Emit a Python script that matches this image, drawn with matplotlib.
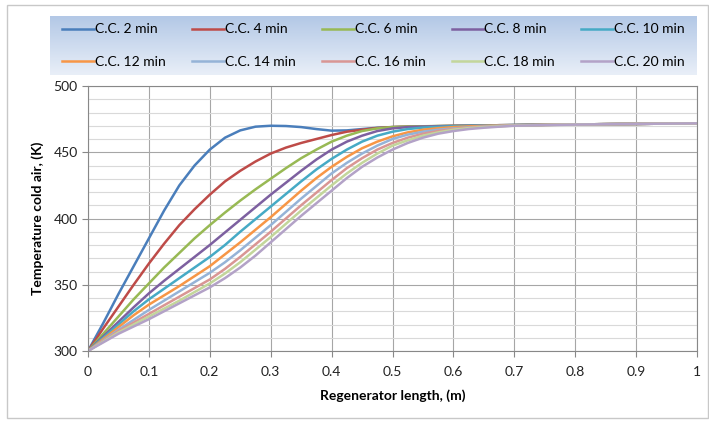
import matplotlib.pyplot as plt
import matplotlib.patches as patches
from matplotlib.colors import LinearSegmentedColormap
import numpy as np

plt.rcParams['font.family'] = ['Lato', 'DejaVu Sans']

# regenerator length (m)
x = [0.0, 0.025, 0.05, 0.075, 0.1, 0.125, 0.15, 0.175, 0.2, 0.225, 0.25,
     0.275, 0.3, 0.325, 0.35, 0.375, 0.4, 0.425, 0.45, 0.475, 0.5,
     0.525, 0.55, 0.575, 0.6, 0.625, 0.65, 0.675, 0.7, 0.8, 0.9, 1.0]

labels = ['C.C. 2 min', 'C.C. 4 min', 'C.C. 6 min', 'C.C. 8 min', 'C.C. 10 min',
          'C.C. 12 min', 'C.C. 14 min', 'C.C. 16 min', 'C.C. 18 min', 'C.C. 20 min']
colors = ['#4a7ebb', '#be4b48', '#98b954', '#7d60a0', '#46aac5',
          '#f79646', '#95b3d7', '#d99694', '#c3d69b', '#b3a2c7']

# temperature of cold air (K)
cc2 = [300, 321, 343, 364, 385, 406, 425, 440, 452, 461, 466.5, 469.3, 470, 469.8, 469, 467.5,
       466.3, 466.5, 467.5, 468.5, 469, 469.3, 469.5, 469.7, 469.9, 470, 470.2, 470.4, 470.5,
       471, 471.4, 471.8]
cc4 = [300, 317, 333.5, 350, 366, 381, 395, 407, 418, 428, 436, 443, 449, 453.5, 457, 460,
       463, 465.5, 467, 468.3, 469, 469.3, 469.5, 469.7, 469.9, 470, 470.2, 470.4, 470.5,
       471, 471.4, 471.8]
cc6 = [300, 313, 326, 339, 351, 363, 374, 385, 395, 404.5, 413.5, 422, 430, 438, 445.5, 452,
       458, 462.5, 466, 468, 469, 469.4, 469.6, 469.8, 469.9, 470, 470.2, 470.4, 470.5,
       471, 471.4, 471.8]
cc8 = [300, 311, 322, 333, 343.5, 353, 362, 371, 380, 389.5, 399, 408.5, 418, 427, 436, 444.5,
       452, 458, 462.5, 466, 468, 469, 469.4, 469.6, 469.8, 470, 470.2, 470.4, 470.5,
       471, 471.4, 471.8]
cc10 = [300, 310, 320, 330, 339, 347, 355, 363, 371, 380, 390, 399.5, 409, 418.5, 428, 437,
        445, 452, 458, 462.5, 465.5, 467.5, 468.6, 469.2, 469.6, 469.9, 470.1, 470.3, 470.5,
        471, 471.4, 471.8]
cc12 = [300, 309, 318, 327, 335, 342, 349, 356.5, 364, 373, 382, 391.5, 401, 411, 421, 430.5,
        439, 446.5, 453, 458, 462, 465, 467, 468.2, 469, 469.5, 469.9, 470.2, 470.4,
        471, 471.4, 471.8]
cc14 = [300, 308, 316, 323.5, 331, 338, 345, 352, 359, 367, 376, 385.5, 395, 405, 415, 424.5,
        434, 442, 449, 455, 460, 463.3, 465.5, 467, 468, 468.8, 469.4, 469.9, 470.3,
        471, 471.4, 471.8]
cc16 = [300, 307.5, 315, 321.5, 328, 334.5, 341, 347.5, 354, 362, 371, 380.5, 390, 400, 410,
        419.5, 429, 438, 445.5, 452, 457, 461, 464, 466, 467.5, 468.5, 469.2, 469.7, 470.2,
        471, 471.4, 471.8]
cc18 = [300, 307, 314, 320, 326, 332, 338, 344.5, 351, 358.5, 367, 376.5, 386, 396, 406,
        415.5, 425, 434, 442, 449, 455, 459, 462.5, 465, 467, 468.2, 469, 469.6, 470.1,
        471, 471.4, 471.8]
cc20 = [300, 306.5, 313, 318.5, 324, 330, 336, 342, 348, 355, 363, 372, 382, 392, 402, 411.5,
        421, 430.5, 439, 446, 452, 457, 461, 464, 466, 467.5, 468.5, 469.3, 470,
        470.9, 471.4, 471.8]

series = [cc2, cc4, cc6, cc8, cc10, cc12, cc14, cc16, cc18, cc20]

W, H = 709, 422
fig = plt.figure(figsize=(W / 100, H / 100), dpi=100)

# outer chart border
fig.patches.append(patches.Rectangle((7 / W, 1 - 418 / H), (708 - 7) / W, (418 - 5) / H,
                                     transform=fig.transFigure, fill=False,
                                     edgecolor='#c8c8c8', linewidth=1.0))

# legend background with gradient
lx0, lx1, ly0, ly1 = 50, 697, 16, 75
bg = fig.add_axes([lx0 / W, 1 - ly1 / H, (lx1 - lx0) / W, (ly1 - ly0) / H])
grad = LinearSegmentedColormap.from_list('g', ['#b3c8e6', '#e9eff8'])
bg.imshow(np.linspace(0, 1, 100).reshape(-1, 1), aspect='auto', cmap=grad,
          extent=[0, 1, 0, 1], origin='upper')
bg.set_axis_off()

ax = fig.add_axes([88 / W, 1 - 351 / H, (697 - 88) / W, (351 - 86) / H])
for ys, c, lab in zip(series, colors, labels):
    ax.plot(x, ys, color=c, linewidth=1.8, label=lab, solid_joinstyle='round')

ax.set_xlim(0, 1)
ax.set_ylim(300, 500)
ax.set_xticks(np.arange(0, 1.01, 0.1))
ax.set_xticklabels(['0', '0.1', '0.2', '0.3', '0.4', '0.5', '0.6', '0.7', '0.8', '0.9', '1'])
ax.set_yticks(np.arange(300, 501, 50))
ax.set_yticks(np.arange(300, 501, 10), minor=True)
ax.grid(which='major', color='#a6a6a6', linewidth=0.8)
ax.grid(which='minor', axis='y', color='#d9d9d9', linewidth=0.8)
ax.tick_params(axis='both', which='major', labelsize=10, color='#888888', length=4,
               labelcolor='#222222')
ax.tick_params(axis='x', which='major', pad=7)
ax.tick_params(axis='y', which='minor', length=0)
for s in ax.spines.values():
    s.set_color('#888888')
ax.set_axisbelow(True)
ax.set_xlabel('Regenerator length, (m)', fontsize=10, fontweight='bold', labelpad=8)
ax.set_ylabel('Temperature cold air, (K)', fontsize=10, fontweight='bold', labelpad=7)

# legend filled row by row (5 columns)
handles, labs = ax.get_legend_handles_labels()
order = [0, 5, 1, 6, 2, 7, 3, 8, 4, 9]
fig.legend([handles[i] for i in order], [labs[i] for i in order], ncol=5, loc='center',
           bbox_to_anchor=((lx0 + lx1) / 2 / W, 1 - (ly0 + ly1) / 2 / H),
           frameon=False, fontsize=10, handlelength=2.3, handletextpad=0.05,
           columnspacing=1.9, labelspacing=1.45)

fig.savefig('out.png', dpi=100)
